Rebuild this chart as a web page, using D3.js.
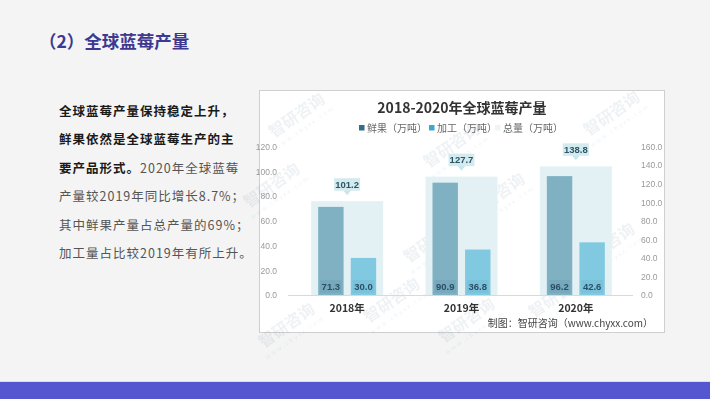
<!DOCTYPE html>
<html><head><meta charset="utf-8">
<script src="https://cdn.jsdelivr.net/npm/d3@7"></script>
<style>
html,body{margin:0;padding:0;background:#f4f4f4;}
svg{display:block;}
</style></head>
<body>
<svg id="c" width="710" height="399"></svg>
<script>
// ---- data ----
const categories = ["2018年", "2019年", "2020年"];
const freshValues = [71.3, 90.9, 96.2];
const processedValues = [30.0, 36.8, 42.6];
const totalValues = [101.2, 127.7, 138.8];
const seriesNames = ["鲜果（万吨）", "加工（万吨）", "总量（万吨）"];
const leftTicks = [0, 20, 40, 60, 80, 100, 120];
const rightTicks = [0, 20, 40, 60, 80, 100, 120, 140, 160];
const pageTitle = "（2）全球蓝莓产量";
const chartTitle = "2018-2020年全球蓝莓产量";
const sourceText = "制图：智研咨询（www.chyxx.com）";
const bodyLines = [
  [["全球蓝莓产量保持稳定上升，", true]],
  [["鲜果依然是全球蓝莓生产的主", true]],
  [["要产品形式。", true], ["2020年全球蓝莓", false]],
  [["产量较2019年同比增长8.7%；", false]],
  [["其中鲜果产量占总产量的69%；", false]],
  [["加工量占比较2019年有所上升。", false]]
];

const FONT = "'Noto Sans CJK SC','Noto Sans',sans-serif";
const svg = d3.select("#c");

// page background & bottom band
svg.append("rect").attr("width", 710).attr("height", 399).attr("fill", "#f4f4f4");
svg.append("rect").attr("x", 0).attr("y", 381).attr("width", 710).attr("height", 1).attr("fill", "#dcdcf0");
svg.append("rect").attr("x", 0).attr("y", 382).attr("width", 710).attr("height", 17).attr("fill", "#5557d1");

// page title
svg.append("text").attr("x", 39).attr("y", 48)
  .attr("font-family", FONT).attr("font-size", 17.5).attr("font-weight", 700)
  .attr("fill", "#3e3890").text(pageTitle);

// body text
const body = svg.append("g");
bodyLines.forEach((line, i) => {
  const t = body.append("text").attr("x", 59).attr("y", 116 + i * 28.4)
    .attr("font-family", FONT).attr("font-size", 12.5).attr("letter-spacing", 1);
  line.forEach(([s, b]) => {
    t.append("tspan").attr("font-weight", b ? 700 : 400)
      .attr("fill", b ? "#1a1a1a" : "#555").text(s);
  });
});

// chart frame
svg.append("rect").attr("x", 259.5).attr("y", 90.5).attr("width", 405).attr("height", 242)
  .attr("fill", "#ffffff").attr("stroke", "#cfcfcf").attr("stroke-width", 1);

// scales
const x = d3.scaleBand().domain(categories).range([290, 633]);
const yL = d3.scaleLinear().domain([0, 120]).range([295, 146.7]);
const yR = d3.scaleLinear().domain([0, 160]).range([295, 146.7]);
const sub = d3.scaleBand().domain(["fresh", "processed"]).range([-29, 29]).paddingInner(0.22);
const totalW = x.bandwidth() * 0.63;

const colFresh = "#7fb1c3", colProc = "#80c9e0", colTotal = "#e3f1f4";

// watermarks (faint)
const wm = [[300, 120], [455, 150], [615, 118], [275, 190], [500, 200], [435, 245], [610, 250], [290, 330], [395, 305], [470, 325], [560, 300]];
const wmG = svg.append("g").attr("opacity", 0.1);
wm.forEach(([wx, wy]) => {
  const g = wmG.append("g").attr("transform", `translate(${wx},${wy}) rotate(-35)`);
  g.append("text").attr("text-anchor", "middle").attr("font-family", FONT)
    .attr("font-size", 16).attr("font-weight", 700).attr("fill", "#5a7f95").text("智研咨询");
  g.append("text").attr("y", 11).attr("text-anchor", "middle").attr("font-family", FONT)
    .attr("font-size", 6).attr("letter-spacing", 2).attr("fill", "#5a7f95").text("www.chyxx.com");
});

// chart title
svg.append("text").attr("x", 462).attr("y", 112.5).attr("text-anchor", "middle")
  .attr("font-family", FONT).attr("font-size", 14).attr("font-weight", 700)
  .attr("fill", "#333").text(chartTitle);

// legend
const legendItems = [
  {name: seriesNames[0], color: "#2d6f8c", x: 359},
  {name: seriesNames[1], color: "#3aa9d1", x: 429},
  {name: seriesNames[2], color: "#eef5f7", x: 495}
];
const lg = svg.append("g");
legendItems.forEach(it => {
  lg.append("rect").attr("x", it.x).attr("y", 125).attr("width", 5.5).attr("height", 5.5).attr("fill", it.color);
  lg.append("text").attr("x", it.x + 8).attr("y", 131.5)
    .attr("font-family", FONT).attr("font-size", 10).attr("fill", "#666").text(it.name);
});

// baseline
svg.append("line").attr("x1", 288).attr("x2", 633).attr("y1", 295.5).attr("y2", 295.5)
  .attr("stroke", "#d9d9d9").attr("stroke-width", 1);

// left axis
const axL = d3.axisLeft(yL).tickValues(leftTicks).tickFormat(d3.format(".1f")).tickSize(0).tickPadding(0);
const gL = svg.append("g").attr("transform", "translate(277,0)").call(axL);
gL.select(".domain").remove();
gL.selectAll("text").attr("font-family", "'Liberation Sans',sans-serif").attr("font-size", 8.5).attr("fill", "#9a9a9a");

// right axis
const axR = d3.axisRight(yR).tickValues(rightTicks).tickFormat(d3.format(".1f")).tickSize(0).tickPadding(0);
const gR = svg.append("g").attr("transform", "translate(641,0)").call(axR);
gR.select(".domain").remove();
gR.selectAll("text").attr("font-family", "'Liberation Sans',sans-serif").attr("font-size", 8.5).attr("fill", "#9a9a9a");

const cx = c => x(c) + x.bandwidth() / 2;

// total background bars
svg.append("g").selectAll("rect").data(categories).join("rect")
  .attr("x", c => cx(c) - totalW / 2).attr("width", totalW)
  .attr("y", (c, i) => yR(totalValues[i])).attr("height", (c, i) => yR(0) - yR(totalValues[i]))
  .attr("fill", colTotal);

// fresh & processed bars
const bars = [
  {key: "fresh", vals: freshValues, color: colFresh, lbl: "#6fa2b5"},
  {key: "processed", vals: processedValues, color: colProc, lbl: "#74bcd3"}
];
bars.forEach(s => {
  const g = svg.append("g");
  g.selectAll("rect.bar").data(categories).join("rect").attr("class", "bar")
    .attr("x", c => cx(c) + sub(s.key)).attr("width", sub.bandwidth())
    .attr("y", (c, i) => yL(s.vals[i])).attr("height", (c, i) => yL(0) - yL(s.vals[i]))
    .attr("fill", s.color);
  g.selectAll("rect.lb").data(categories).join("rect").attr("class", "lb")
    .attr("x", c => cx(c) + sub(s.key) + 2).attr("width", sub.bandwidth() - 4)
    .attr("y", yL(0) - 15).attr("height", 13).attr("fill", s.lbl).attr("opacity", 0.5);
  g.selectAll("text").data(categories).join("text")
    .attr("x", c => cx(c) + sub(s.key) + sub.bandwidth() / 2).attr("y", yL(0) - 5)
    .attr("text-anchor", "middle").attr("font-family", "'Liberation Sans',sans-serif")
    .attr("font-size", 9.5).attr("font-weight", 700).attr("fill", "#2b4e66")
    .text((c, i) => d3.format(".1f")(s.vals[i]));
});

// total callouts
const co = svg.append("g");
categories.forEach((c, i) => {
  const top = yR(totalValues[i]);
  const bx = cx(c), by = top - 10;
  co.append("path").attr("d", `M${bx - 4},${by - 1}L${bx + 4},${by - 1}L${bx},${by + 4}Z`).attr("fill", "#c9e6ea");
  co.append("rect").attr("x", bx - 13).attr("y", by - 13).attr("width", 26).attr("height", 12.5)
    .attr("fill", "#d3ebee");
  co.append("text").attr("x", bx).attr("y", by - 3.5).attr("text-anchor", "middle")
    .attr("font-family", "'Liberation Sans',sans-serif").attr("font-size", 9.5).attr("font-weight", 700)
    .attr("fill", "#2d5566").text(d3.format(".1f")(totalValues[i]));
});

// x labels
svg.append("g").selectAll("text").data(categories).join("text")
  .attr("x", cx).attr("y", 312).attr("text-anchor", "middle")
  .attr("font-family", FONT).attr("font-size", 10.5).attr("font-weight", 700)
  .attr("fill", "#333").text(d => d);

// source
svg.append("text").attr("x", 653).attr("y", 327).attr("text-anchor", "end")
  .attr("font-family", FONT).attr("font-size", 10).attr("fill", "#444").text(sourceText);
</script>
</body></html>
